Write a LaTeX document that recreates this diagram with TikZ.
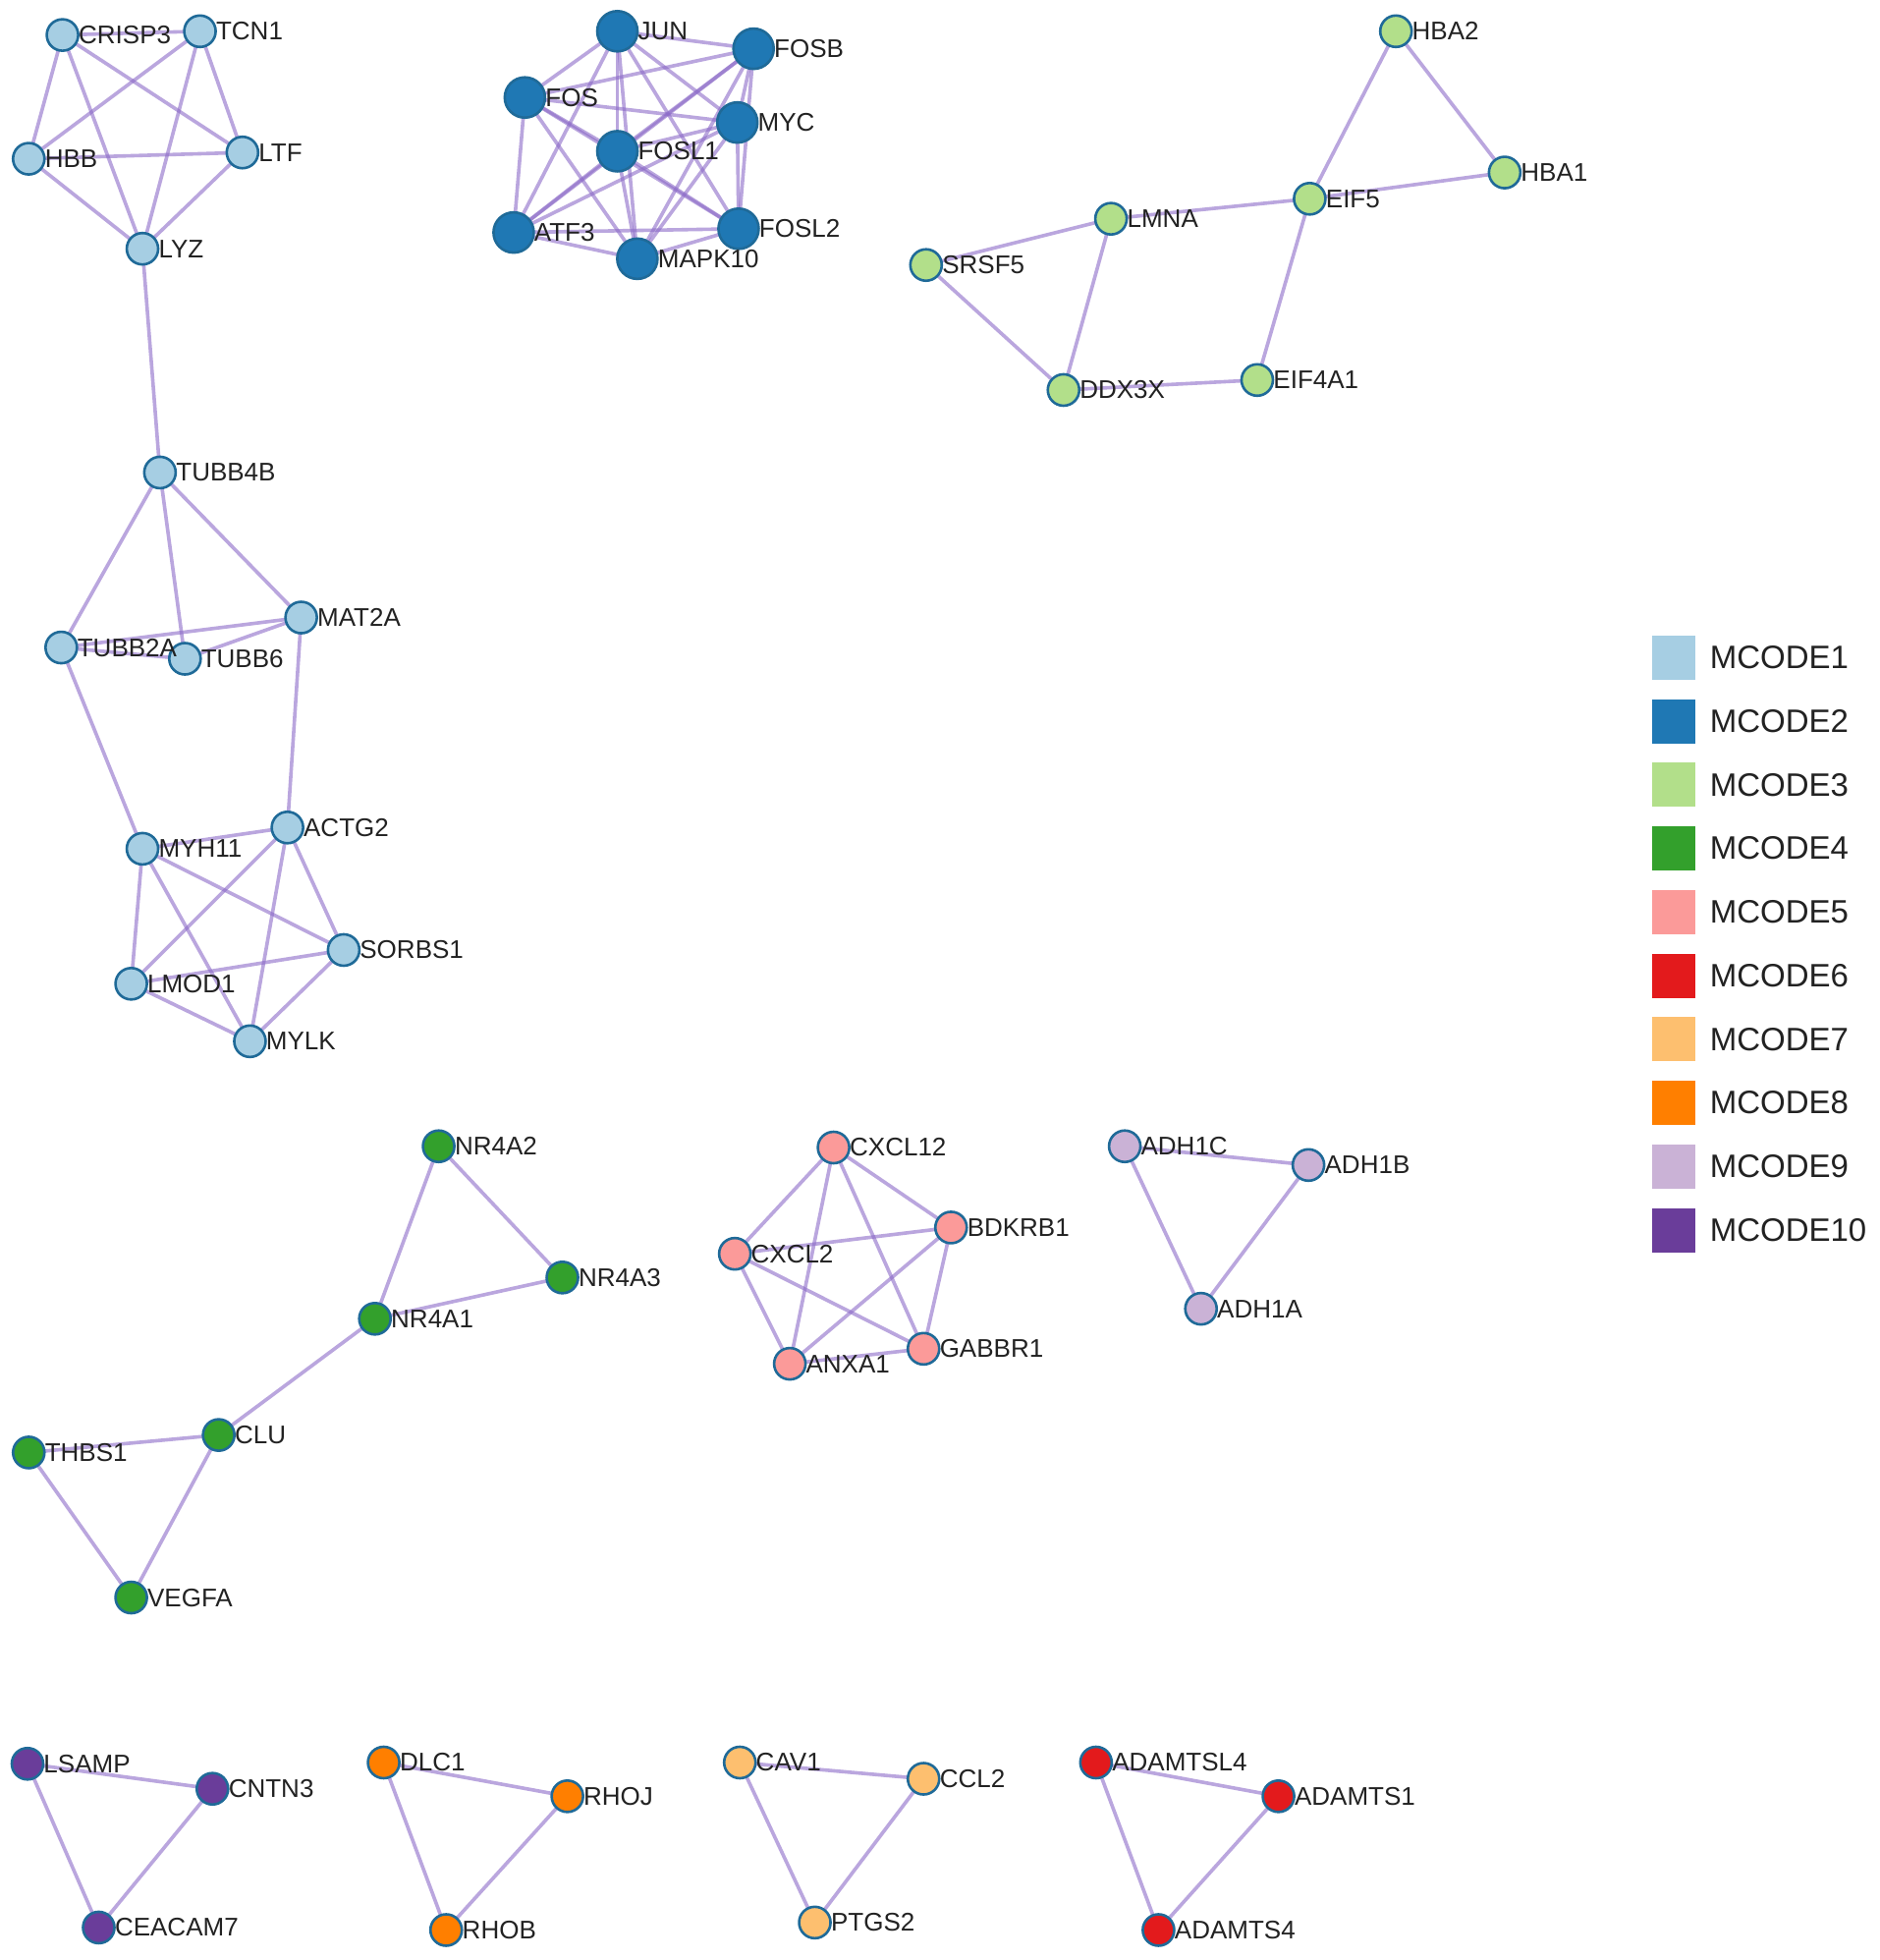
\documentclass[tikz,border=0pt]{standalone}
\usepackage{fontspec}
\setmainfont{Liberation Sans}
\pgfdeclarelayer{bgfill}
\pgfdeclarelayer{edges}
\pgfsetlayers{bgfill,edges,main}
\definecolor{mc1}{HTML}{A6CEE3}
\definecolor{mc2}{HTML}{1F78B4}
\definecolor{mc3}{HTML}{B2DF8A}
\definecolor{mc4}{HTML}{33A02C}
\definecolor{mc5}{HTML}{FB9A99}
\definecolor{mc6}{HTML}{E31A1C}
\definecolor{mc7}{HTML}{FDBF6F}
\definecolor{mc8}{HTML}{FF7F00}
\definecolor{mc9}{HTML}{CAB2D6}
\definecolor{mc10}{HTML}{6A3D9A}
\definecolor{bord}{HTML}{1F6A98}
\definecolor{edgec}{HTML}{8C6BC8}
\definecolor{txt}{HTML}{222222}
\begin{document}
\begin{tikzpicture}[x=1.272pt,y=-1.272pt,
  nd/.style={circle,draw=bord,line width=2.6pt,minimum size=32pt,inner sep=0pt},
  bignd/.style={nd,minimum size=41pt},
  lab/.style={anchor=west,inner sep=0pt,xshift=-1pt,font=\fontsize{26}{26}\selectfont,text=txt},
  edge/.style={draw=edgec,line width=3.6pt,opacity=0.6},
  legsq/.style={rectangle,minimum width=44pt,minimum height=45pt,inner sep=0pt},
  legtx/.style={anchor=west,inner sep=0pt,font=\fontsize{33}{33}\selectfont,text=txt}]
\begin{pgfonlayer}{bgfill}
\fill[white] (0,0) rectangle (1504,1568);
\end{pgfonlayer}
\useasboundingbox (0,0) rectangle (1504,1568);
% nodes
\foreach \n/\x/\y in {CRISP3/50/28, TCN1/160/25, HBB/23/127, LTF/194/122, LYZ/114/199,
  TUBB4B/128/378, MAT2A/241/494, TUBB2A/49/518, TUBB6/148/527, ACTG2/230/662,
  MYH11/114/679, SORBS1/275/760, LMOD1/105/787, MYLK/200/833}
  \node[nd,fill=mc1] (\n) at (\x,\y) {};
\foreach \n/\x/\y in {JUN/494/25, FOSB/603/39, FOS/420/78, MYC/590/98, FOSL1/494/121,
  ATF3/411/186, MAPK10/510/207, FOSL2/591/183}
  \node[bignd,fill=mc2] (\n) at (\x,\y) {};
\foreach \n/\x/\y in {HBA2/1117/25, HBA1/1204/138, EIF5/1048/159, LMNA/889/175,
  SRSF5/741/212, DDX3X/851/312, EIF4A1/1006/304}
  \node[nd,fill=mc3] (\n) at (\x,\y) {};
\foreach \n/\x/\y in {NR4A2/351/917, NR4A3/450/1022, NR4A1/300/1055, CLU/175/1148,
  THBS1/23/1162, VEGFA/105/1278}
  \node[nd,fill=mc4] (\n) at (\x,\y) {};
\foreach \n/\x/\y in {CXCL12/667/918, BDKRB1/761/982, CXCL2/588/1003, ANXA1/632/1091,
  GABBR1/739/1079}
  \node[nd,fill=mc5] (\n) at (\x,\y) {};
\foreach \n/\x/\y in {ADAMTSL4/877/1410, ADAMTS1/1023/1437, ADAMTS4/927/1544}
  \node[nd,fill=mc6] (\n) at (\x,\y) {};
\foreach \n/\x/\y in {CAV1/592/1410, CCL2/739/1423, PTGS2/652/1538}
  \node[nd,fill=mc7] (\n) at (\x,\y) {};
\foreach \n/\x/\y in {DLC1/307/1410, RHOJ/454/1437, RHOB/357/1544}
  \node[nd,fill=mc8] (\n) at (\x,\y) {};
\foreach \n/\x/\y in {ADH1C/900/917, ADH1B/1047/932, ADH1A/961/1047}
  \node[nd,fill=mc9] (\n) at (\x,\y) {};
\foreach \n/\x/\y in {LSAMP/22/1411, CNTN3/170/1431, CEACAM7/79/1542}
  \node[nd,fill=mc10] (\n) at (\x,\y) {};
% labels
\foreach \n in {CRISP3,TCN1,HBB,LTF,LYZ,TUBB4B,MAT2A,TUBB2A,TUBB6,ACTG2,MYH11,SORBS1,LMOD1,MYLK,
  JUN,FOSB,FOS,MYC,FOSL1,ATF3,MAPK10,FOSL2,
  HBA2,HBA1,EIF5,LMNA,SRSF5,DDX3X,EIF4A1,
  NR4A2,NR4A3,NR4A1,CLU,THBS1,VEGFA,
  CXCL12,BDKRB1,CXCL2,ANXA1,GABBR1,
  ADAMTSL4,ADAMTS1,ADAMTS4,CAV1,CCL2,PTGS2,DLC1,RHOJ,RHOB,
  ADH1C,ADH1B,ADH1A,LSAMP,CNTN3,CEACAM7}
  \node[lab] (\n-l) at (\n.east) {\n};
% edges
\begin{pgfonlayer}{edges}
\foreach \a/\b in {CRISP3/TCN1, CRISP3/HBB, CRISP3/LYZ, CRISP3/LTF, TCN1/HBB, TCN1/LYZ,
  TCN1/LTF, HBB/LTF, HBB/LYZ, LTF/LYZ, LYZ/TUBB4B,
  TUBB4B/TUBB2A, TUBB4B/TUBB6, TUBB4B/MAT2A, TUBB2A/MAT2A, TUBB2A/TUBB6, TUBB6/MAT2A,
  TUBB2A/MYH11, MAT2A/ACTG2, MYH11/ACTG2, MYH11/LMOD1, MYH11/MYLK, MYH11/SORBS1,
  ACTG2/LMOD1, ACTG2/MYLK, ACTG2/SORBS1, LMOD1/SORBS1, LMOD1/MYLK, SORBS1/MYLK,
  JUN/FOSB, JUN/FOS, JUN/MYC, JUN/FOSL1, JUN/ATF3, JUN/MAPK10, JUN/FOSL2,
  FOSB/FOS, FOSB/MYC, FOSB/FOSL1, FOSB/ATF3, FOSB/MAPK10, FOSB/FOSL2,
  FOS/MYC, FOS/FOSL1, FOS/ATF3, FOS/MAPK10, FOS/FOSL2,
  MYC/FOSL1, MYC/ATF3, MYC/MAPK10, MYC/FOSL2,
  FOSL1/ATF3, FOSL1/MAPK10, FOSL1/FOSL2,
  ATF3/MAPK10, ATF3/FOSL2, MAPK10/FOSL2,
  HBA2/EIF5, HBA2/HBA1, HBA1/EIF5, EIF5/LMNA, EIF5/EIF4A1, LMNA/SRSF5, LMNA/DDX3X,
  SRSF5/DDX3X, DDX3X/EIF4A1,
  NR4A2/NR4A3, NR4A2/NR4A1, NR4A1/NR4A3, NR4A1/CLU, CLU/THBS1, CLU/VEGFA, THBS1/VEGFA,
  CXCL12/BDKRB1, CXCL12/CXCL2, CXCL12/ANXA1, CXCL12/GABBR1, CXCL2/BDKRB1, CXCL2/ANXA1,
  CXCL2/GABBR1, BDKRB1/ANXA1, BDKRB1/GABBR1, ANXA1/GABBR1,
  ADH1C/ADH1B, ADH1C/ADH1A, ADH1B/ADH1A,
  LSAMP/CNTN3, LSAMP/CEACAM7, CNTN3/CEACAM7,
  DLC1/RHOJ, DLC1/RHOB, RHOJ/RHOB,
  CAV1/CCL2, CAV1/PTGS2, CCL2/PTGS2,
  ADAMTSL4/ADAMTS1, ADAMTSL4/ADAMTS4, ADAMTS1/ADAMTS4}
  \draw[edge] (\a.center) -- (\b.center);
\end{pgfonlayer}
% legend
\foreach \i/\c in {1/mc1,2/mc2,3/mc3,4/mc4,5/mc5,6/mc6,7/mc7,8/mc8,9/mc9,10/mc10}{
  \node[legsq,fill=\c] (sq\i) at (1339.5,{526+50.9*(\i-1)}) {};
  \node[legtx] (lt\i) at (1368,{526+50.9*(\i-1)}) {MCODE\i};
}
\end{tikzpicture}
\end{document}
